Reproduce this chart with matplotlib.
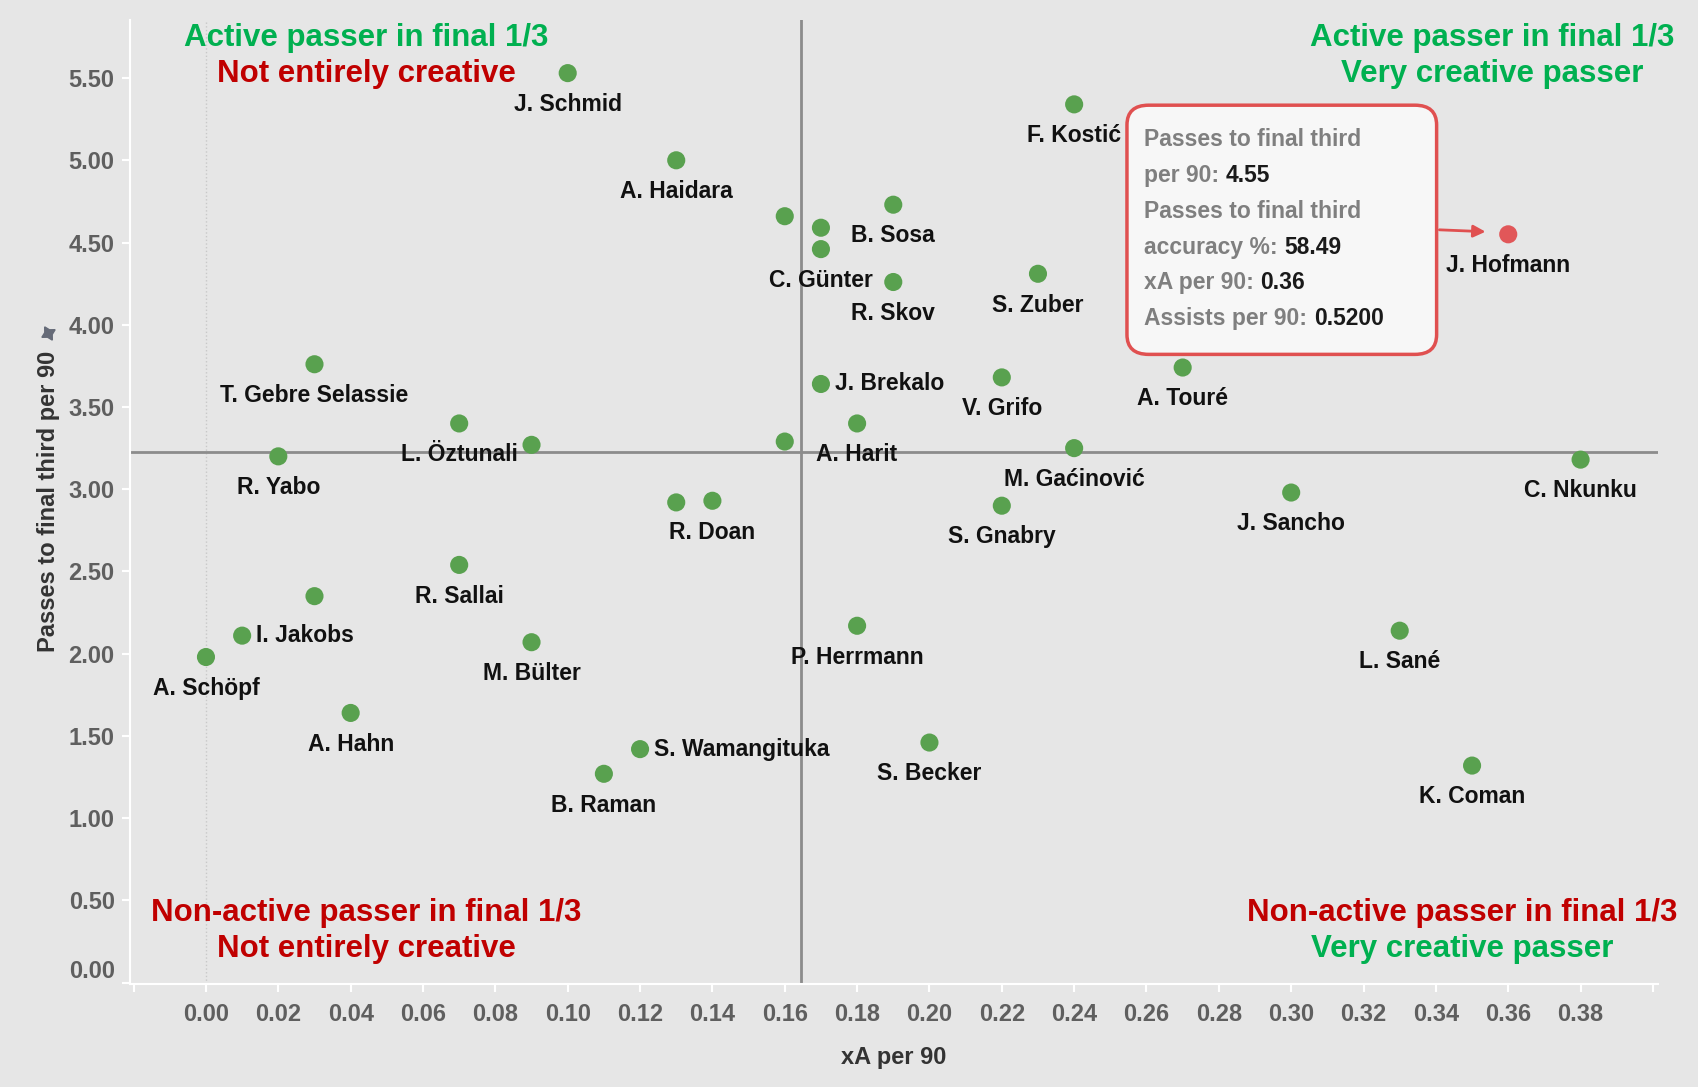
import matplotlib
matplotlib.use('Agg')
import matplotlib.pyplot as plt
from matplotlib.patches import FancyBboxPatch
from matplotlib import font_manager

# player data
names = ['J. Schmid', 'A. Haidara', 'F. Kostić', 'B. Sosa', '', '', 'C. Günter', 'R. Skov',
         'S. Zuber', 'J. Hofmann', 'A. Touré', 'T. Gebre Selassie', 'J. Brekalo', 'V. Grifo',
         'L. Öztunali', 'A. Harit', '', '', 'M. Gaćinović', 'R. Yabo', 'C. Nkunku', 'J. Sancho',
         '', 'R. Doan', 'S. Gnabry', 'R. Sallai', '', 'I. Jakobs', 'A. Schöpf', 'M. Bülter',
         'P. Herrmann', 'L. Sané', 'A. Hahn', 'S. Wamangituka', 'B. Raman', 'S. Becker', 'K. Coman']
xa_per90 = [0.10, 0.13, 0.24, 0.19, 0.16, 0.17, 0.17, 0.19,
            0.23, 0.36, 0.27, 0.03, 0.17, 0.22,
            0.07, 0.18, 0.09, 0.16, 0.24, 0.02, 0.38, 0.30,
            0.13, 0.14, 0.22, 0.07, 0.03, 0.01, 0.00, 0.09,
            0.18, 0.33, 0.04, 0.12, 0.11, 0.20, 0.35]
passes_per90 = [5.53, 5.00, 5.34, 4.73, 4.66, 4.59, 4.46, 4.26,
                4.31, 4.55, 3.74, 3.76, 3.64, 3.68,
                3.40, 3.40, 3.27, 3.29, 3.25, 3.20, 3.18, 2.98,
                2.92, 2.93, 2.90, 2.54, 2.35, 2.11, 1.98, 2.07,
                2.17, 2.14, 1.64, 1.42, 1.27, 1.46, 1.32]
label_side = ['b'] * len(names)
for n in ['J. Brekalo', 'I. Jakobs', 'S. Wamangituka']:
    label_side[names.index(n)] = 'r'

ref_x = 0.1644
ref_y = 3.227
highlight = 'J. Hofmann'
tooltip = [('Passes to final third', ''), ('per 90: ', '4.55'),
           ('Passes to final third', ''), ('accuracy %: ', '58.49'),
           ('xA per 90: ', '0.36'), ('Assists per 90: ', '0.5200')]

fams = [f.name for f in font_manager.fontManager.ttflist]
narrow = 'Liberation Sans Narrow' if 'Liberation Sans Narrow' in fams else 'Liberation Sans'
plt.rcParams['font.family'] = [narrow, 'DejaVu Sans']
plt.rcParams['font.weight'] = 'bold'

bg = '#e6e6e6'
green = '#59a14f'
red_dot = '#e15759'
q_green = '#00b050'
q_red = '#c00000'

fig = plt.figure(figsize=(16.99, 10.87), dpi=100, facecolor=bg)
ax = fig.add_axes([130 / 1699, 1 - 984 / 1087, (1658 - 130) / 1699, (984 - 19.5) / 1087])
ax.set_facecolor(bg)
ax.set_xlim(-0.021, 0.4014)
ax.set_ylim(-0.008, 5.856)

for s in ['top', 'right']:
    ax.spines[s].set_visible(False)
for s in ['left', 'bottom']:
    ax.spines[s].set_color('white')
    ax.spines[s].set_linewidth(1.5)

ax.set_xticks([i / 100 for i in range(-2, 41, 2)])
ax.set_xticklabels(['' if i in (-2, 40) else '%.2f' % (i / 100) for i in range(-2, 41, 2)])
ax.set_yticks([i / 2 for i in range(0, 12)])
ax.set_yticklabels(['%.2f' % (i / 2) for i in range(0, 12)])
ax.tick_params(colors='white', length=6, width=1.5)
ax.tick_params(axis='x', labelcolor='#5f5f5f', labelsize=17, pad=8)
ax.tick_params(axis='y', labelcolor='#5f5f5f', labelsize=17, pad=5)
ax.get_yticklabels()[0].set_va('bottom')

ax.set_xlabel('xA per 90', fontsize=17, fontweight='bold', color='#333333', labelpad=14)
ax.set_ylabel('Passes to final third per 90', fontsize=17, fontweight='bold', color='#333333')
ax.yaxis.set_label_coords(-0.046, 0.50)
# pin icon next to the axis title
ax.plot([-0.0535], [0.675], transform=ax.transAxes, marker=(4, 1, 30), ms=11,
        color='#666b78', clip_on=False)

ax.axvline(0, color='#c8c8c8', lw=1, ls=':', zorder=1)
ax.axvline(ref_x, color='#8c8c8c', lw=2, zorder=1)
ax.axhline(ref_y, color='#8c8c8c', lw=2, zorder=1)

colors = [red_dot if n == highlight else green for n in names]
ax.scatter(xa_per90, passes_per90, s=170, c=colors, zorder=3, linewidths=0)

for n, x, y, side in zip(names, xa_per90, passes_per90, label_side):
    if not n:
        continue
    if side == 'b':
        ax.annotate(n, (x, y), xytext=(0, -22.5), textcoords='offset points',
                    ha='center', va='center', fontsize=16.5, color='#111111', zorder=4)
    else:
        ax.annotate(n, (x, y), xytext=(10, 0), textcoords='offset points',
                    ha='left', va='center', fontsize=16.5, color='#111111', zorder=4)

# quadrant captions
qs = 22.5
ax.text(0.0443, 5.744, 'Active passer in final 1/3', color=q_green, fontsize=qs, ha='center', va='center')
ax.text(0.0443, 5.526, 'Not entirely creative', color=q_red, fontsize=qs, ha='center', va='center')
ax.text(0.3555, 5.744, 'Active passer in final 1/3', color=q_green, fontsize=qs, ha='center', va='center')
ax.text(0.3555, 5.526, 'Very creative passer', color=q_green, fontsize=qs, ha='center', va='center')
ax.text(0.0443, 0.421, 'Non-active passer in final 1/3', color=q_red, fontsize=qs, ha='center', va='center')
ax.text(0.0443, 0.204, 'Not entirely creative', color=q_red, fontsize=qs, ha='center', va='center')
ax.text(0.3474, 0.421, 'Non-active passer in final 1/3', color=q_red, fontsize=qs, ha='center', va='center')
ax.text(0.3474, 0.204, 'Very creative passer', color=q_green, fontsize=qs, ha='center', va='center')

# tooltip box
box = FancyBboxPatch((0.2546, 3.82), 0.3402 - 0.2546, 5.335 - 3.82,
                     boxstyle='round,pad=0,rounding_size=0.006', mutation_aspect=20,
                     fc='#f7f7f7', ec='#e05050', lw=2.5, zorder=5)
ax.add_patch(box)
line_y = [5.125, 4.907, 4.69, 4.472, 4.255, 4.038]
for (lab, val), ly in zip(tooltip, line_y):
    t = ax.text(0.2594, ly, lab, color='#7f7f7f', fontsize=16.5, ha='left', va='center', zorder=6)
    if val:
        ax.annotate(val, xy=(1, 0), xycoords=t, ha='left', va='bottom',
                    color='#1a1a1a', fontsize=16.5, zorder=6)
ax.annotate('', xy=(0.3545, 4.565), xytext=(0.3402, 4.578),
            arrowprops=dict(arrowstyle='-|>', color='#e05050', lw=2, mutation_scale=18), zorder=6)

fig.savefig('out.png', dpi=100, facecolor=bg)
